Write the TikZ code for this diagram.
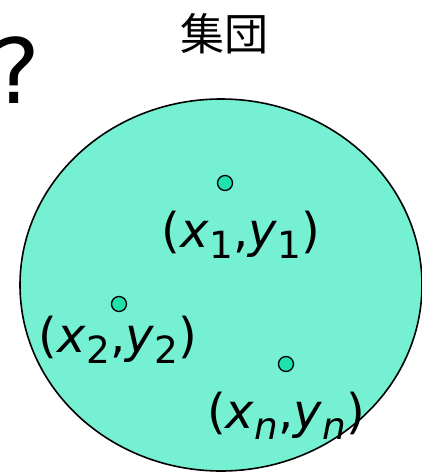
\documentclass[tikz,border=0pt]{standalone}
\usepackage{fontspec}
\setmainfont{DejaVu Sans}
\newfontfamily\cjkfont{Noto Sans CJK JP}
\usepackage{tikz}
\usetikzlibrary{positioning}
\usepackage{xcolor}
\definecolor{GroupMint}{HTML}{76F0D2}
\definecolor{DotGreen}{HTML}{1EE3AA}
\definecolor{LineBlack}{HTML}{000000}
\newcommand{\lowsub}[1]{\raisebox{-0.24em}{\scalebox{0.78}{#1}}}
\tikzset{
    % Group region
    groupblob/.style={
        draw=LineBlack,
        fill=GroupMint,
        line width=1.6pt
    },
    % Sample points
    sampledot/.style={
        circle,
        draw=LineBlack,
        fill=DotGreen,
        line width=1.3pt,
        inner sep=0pt,
        minimum size=15pt
    },
    % Point labels
    pointlabel/.style={
        anchor=base,
        inner sep=0pt,
        font=\fontsize{48}{52}\selectfont
    },
    titlelabel/.style={
        anchor=center,
        inner sep=0pt,
        font=\fontsize{44}{48}\selectfont\cjkfont
    }
}
\begin{document}
\begin{tikzpicture}[x=1pt,y=-1pt]
    \useasboundingbox (0,0) rectangle (422,474);

    % Question mark and title
    \node[anchor=base,inner sep=0pt,font=\fontsize{90}{96}\selectfont] (qmark) at (16,103) {?};
    \node[titlelabel] (title) at (224,34) {集団};

    % Group
    \draw[groupblob] (221,285) ellipse [x radius=201, y radius=186];

    % Points
    \node[sampledot] (p1) at (225,183) {};
    \node[sampledot] (p2) at (119,304) {};
    \node[sampledot] (pn) at (286,364) {};

    % Labels
    \node[pointlabel] (p1lbl) at (241,247) {(\textit{x}\lowsub{1},\textit{y}\lowsub{1})};
    \node[pointlabel] (p2lbl) at (118,352) {(\textit{x}\lowsub{2},\textit{y}\lowsub{2})};
    \node[pointlabel] (pnlbl) at (286,428) {(\textit{x}\lowsub{\textit{n}},\textit{y}\lowsub{\textit{n}})};
\end{tikzpicture}
\end{document}
